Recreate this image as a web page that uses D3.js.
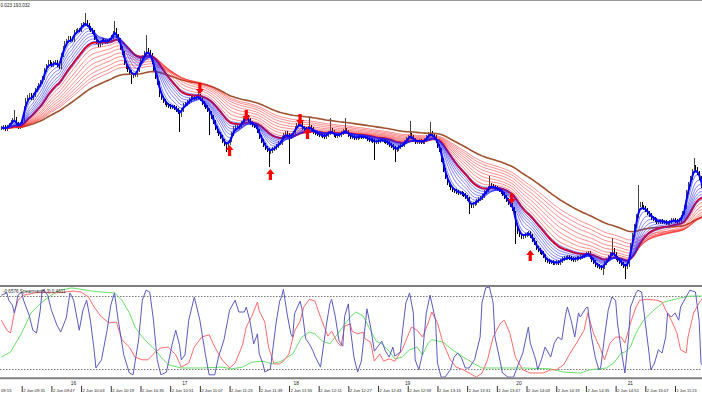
<!DOCTYPE html>
<html>
<head>
<meta charset="utf-8">
<script src="https://cdn.jsdelivr.net/npm/d3@7"></script>
<style>
  html, body { margin: 0; padding: 0; background: #fff; }
  svg { display: block; }
  text { font-family: "Liberation Sans", Arial, sans-serif; }
</style>
</head>
<body>
<svg id="chart" width="702" height="395"></svg>
<script>
// one bar per minute, first visible bar is 2 Jun 09:20
const closes = [
  193.098,193.099,193.097,193.099,193.101,193.104,193.106,193.107,193.102,193.099,
  193.102,193.106,193.118,193.126,193.129,193.131,193.128,193.131,193.136,193.138,
  193.141,193.144,193.148,193.156,193.160,193.164,193.162,193.161,193.163,193.164,
  193.161,193.159,193.171,193.178,193.183,193.185,193.188,193.186,193.186,193.194,
  193.195,193.196,193.196,193.201,193.202,193.204,193.201,193.198,193.196,193.194,
  193.188,193.184,193.181,193.183,193.186,193.185,193.184,193.185,193.186,193.189,
  193.193,193.196,193.190,193.186,193.178,193.173,193.163,193.159,193.156,193.154,
  193.150,193.151,193.151,193.156,193.161,193.166,193.169,193.173,193.176,193.174,
  193.171,193.164,193.156,193.149,193.143,193.131,193.128,193.125,193.123,193.121,
  193.120,193.119,193.119,193.118,193.116,193.114,193.111,193.116,193.121,193.122,
  193.124,193.126,193.128,193.129,193.128,193.129,193.130,193.127,193.123,193.121,
  193.119,193.116,193.113,193.109,193.104,193.098,193.095,193.092,193.089,193.085,
  193.082,193.080,193.083,193.086,193.092,193.098,193.099,193.099,193.100,193.103,
  193.106,193.108,193.109,193.106,193.103,193.101,193.100,193.099,193.095,193.089,
  193.085,193.081,193.078,193.076,193.074,193.075,193.077,193.078,193.080,193.083,
  193.083,193.088,193.091,193.093,193.091,193.089,193.091,193.093,193.098,193.101,
  193.102,193.103,193.098,193.097,193.096,193.098,193.099,193.097,193.094,193.093,
  193.092,193.091,193.091,193.090,193.089,193.091,193.093,193.096,193.094,193.091,
  193.090,193.091,193.091,193.093,193.095,193.096,193.094,193.091,193.089,193.089,
  193.088,193.088,193.089,193.090,193.089,193.089,193.089,193.087,193.086,193.086,
  193.085,193.084,193.084,193.085,193.086,193.086,193.085,193.084,193.083,193.081,
  193.080,193.078,193.076,193.077,193.079,193.081,193.081,193.084,193.087,193.089,
  193.091,193.089,193.086,193.084,193.084,193.085,193.084,193.084,193.086,193.089,
  193.092,193.093,193.091,193.089,193.085,193.080,193.076,193.066,193.056,193.049,
  193.043,193.041,193.038,193.036,193.035,193.034,193.033,193.033,193.032,193.031,
  193.029,193.027,193.021,193.020,193.022,193.023,193.025,193.027,193.028,193.030,
  193.034,193.036,193.038,193.041,193.040,193.039,193.038,193.037,193.036,193.034,
  193.032,193.029,193.026,193.023,193.021,193.017,193.013,192.999,192.994,192.991,
  192.989,192.990,192.991,192.992,192.993,192.990,192.986,192.983,192.978,192.976,
  192.974,192.973,192.970,192.966,192.965,192.964,192.964,192.963,192.963,192.964,
  192.963,192.965,192.967,192.968,192.968,192.969,192.968,192.967,192.966,192.967,
  192.968,192.968,192.969,192.970,192.971,192.972,192.973,192.969,192.966,192.964,
  192.961,192.960,192.959,192.958,192.959,192.963,192.966,192.969,192.972,192.976,
  192.972,192.968,192.966,192.964,192.962,192.960,192.959,192.961,192.968,192.981,
  192.991,193.000,193.010,193.021,193.022,193.019,193.018,193.016,193.013,193.011,
  193.008,193.007,193.006,193.004,193.004,193.005,193.004,193.004,193.003,193.003,
  193.004,193.006,193.006,193.005,193.004,193.006,193.009,193.013,193.019,193.034,
  193.042,193.048,193.055,193.059,193.057,193.053,193.048,193.040,193.030
];

// bars whose wick reaches past the open/close: [bar, price]
const spikes = [
  [7,193.114],[45,193.211],[61,193.203],[70,193.144],[78,193.189],[96,193.096],
  [106,193.134],[112,193.093],[121,193.076],[132,193.110],[144,193.061],[155,193.064],
  [166,193.106],[177,193.106],[185,193.106],[201,193.068],[212,193.066],[220,193.103],
  [231,193.102],[252,193.014],[263,193.048],[277,192.984],[324,192.953],[329,192.986],
  [336,192.949],[343,193.039],[373,193.066]
];

// signal arrows: [bar, price at the arrow tip]
const downArrows = [[107,193.132],[132,193.105],[161,193.101],[275,193.022]];
const upArrows = [[123,193.081],[145,193.057],[165,193.098],[285,192.976]];

// Spearman window: [bar, value]
const spearFast = [
  [0,0.82],[3,0.87],[4,0.71],[6,0.60],[7,0.43],[8,0.60],[9,0.82],[11,0.89],[12,0.71],[15,0.38],
  [17,0.05],[19,-0.01],[21,0.49],[22,0.93],[23,0.93],[25,0.82],[27,0.49],[30,0.16],[32,0.01],[35,0.32],
  [37,0.87],[39,0.71],[41,0.27],[42,0.05],[44,0.49],[46,0.71],[48,0.27],[50,-0.38],[51,-0.78],[54,-0.60],
  [57,0.05],[59,0.60],[61,0.87],[63,0.27],[66,-0.49],[69,-0.89],[71,-0.93],[74,-0.16],[76,0.71],[78,0.93],
  [80,0.89],[82,0.27],[84,-0.60],[86,-0.93],[89,-0.87],[92,-0.27],[94,0.05],[96,-0.27],[97,-0.60],[99,-0.49],
  [101,0.27],[104,0.78],[107,0.27],[110,-0.49],[112,-0.93],[115,-0.93],[117,-0.54],[120,-0.16],[123,0.49],[126,0.71],
  [128,0.45],[131,0.45],[132,0.56],[134,0.25],[136,-0.25],[138,-0.03],[139,-0.47],[141,-0.69],[142,-0.87],[145,-0.80],
  [148,0.19],[150,0.69],[151,0.78],[152,0.95],[154,0.41],[156,-0.03],[157,-0.10],[158,0.41],[161,0.69],[162,0.52],
  [164,-0.14],[166,-0.25],[168,-0.41],[169,-0.52],[172,-0.76],[175,0.12],[177,0.63],[178,0.73],[180,0.34],[182,-0.19],
  [184,-0.30],[185,0.36],[187,0.63],[188,0.12],[190,-0.54],[192,-0.87],[194,-0.63],[196,0.12],[197,0.52],[199,0.12],
  [201,-0.41],[204,-0.25],[205,-0.19],[207,-0.41],[209,-0.54],[211,-0.32],[212,-0.52],[215,-0.43],[216,-0.03],[218,0.65],
  [220,0.87],[222,0.43],[223,-0.60],[225,-0.82],[227,-0.45],[229,0.43],[231,0.82],[234,0.27],[235,-0.67],[237,-0.98],
  [239,-0.98],[242,-0.82],[244,-0.54],[246,-0.45],[248,-0.56],[250,-0.78],[252,-0.78],[255,-0.60],[258,-0.10],[259,0.65],
  [261,0.98],[263,1.00],[265,0.65],[266,-0.10],[269,-0.67],[270,-0.89],[273,-0.98],[276,-0.98],[278,-0.76],[281,-0.45],
  [284,0.12],[285,-0.23],[288,-0.60],[289,-0.82],[291,-0.60],[293,-0.32],[296,-0.54],[298,-0.23],[300,-0.10],[302,-0.16],
  [304,0.38],[305,0.56],[307,0.27],[309,-0.10],[311,0.43],[312,0.34],[315,0.54],[316,0.56],[318,-0.10],[320,-0.54],
  [322,-0.82],[323,-0.76],[325,-0.10],[327,0.49],[329,0.78],[331,0.71],[332,0.21],[334,-0.38],[336,-0.89],[338,-0.10],
  [339,0.56],[342,0.87],[343,0.93],[345,0.89],[347,0.21],[349,-0.45],[350,-0.82],[352,-0.67],[354,-0.38],[356,-0.45],
  [358,-0.10],[359,0.43],[361,0.34],[363,0.43],[365,0.27],[366,0.56],[369,0.78],[371,0.93],[374,0.89],[376,0.27],
  [377,-0.67],[379,-0.82]
];
const spearMid = [
  [0,0.27],[3,0.05],[5,-0.01],[7,0.43],[9,0.71],[12,0.82],[18,0.87],[23,0.89],[29,0.87],[34,0.89],
  [39,0.91],[43,0.89],[47,0.78],[50,0.56],[54,0.34],[58,0.21],[62,0.23],[65,-0.16],[69,-0.32],[72,-0.54],
  [76,-0.60],[79,-0.60],[83,-0.43],[86,-0.34],[90,-0.32],[94,-0.49],[97,-0.76],[101,-0.67],[104,-0.32],[108,-0.10],
  [112,-0.05],[115,-0.32],[119,-0.60],[123,-0.78],[126,-0.67],[130,-0.27],[132,0.12],[135,0.36],[138,0.67],[139,0.47],
  [142,0.23],[144,-0.32],[147,-0.69],[150,-0.69],[152,-0.63],[155,-0.47],[158,0.03],[161,0.25],[163,0.56],[166,0.73],
  [169,0.69],[171,0.45],[174,0.12],[176,-0.08],[178,0.03],[181,-0.21],[183,-0.30],[185,0.14],[188,0.19],[189,0.03],
  [192,-0.03],[195,0.01],[196,-0.14],[199,-0.21],[201,-0.63],[204,-0.47],[206,-0.63],[209,-0.58],[212,-0.63],[216,-0.38],
  [221,0.12],[224,0.05],[227,-0.10],[230,0.21],[232,0.45],[235,0.21],[238,-0.23],[242,-0.60],[245,-0.76],[249,-0.82],
  [252,-0.89],[256,-0.98],[259,-0.89],[262,-0.60],[265,-0.10],[269,0.21],[271,0.27],[274,-0.01],[277,-0.54],[281,-0.82],
  [285,-0.89],[288,-0.89],[292,-0.89],[296,-0.82],[299,-0.82],[303,-0.71],[306,-0.49],[310,-0.23],[314,0.05],[316,0.43],
  [319,-0.01],[323,-0.38],[325,-0.60],[328,-0.23],[331,-0.10],[334,-0.10],[336,-0.23],[339,0.21],[342,0.56],[344,0.71],
  [348,0.73],[353,0.71],[356,0.67],[358,0.49],[361,0.27],[364,-0.01],[366,-0.38],[369,-0.45],[370,-0.10],[373,0.43],
  [376,0.65],[378,0.76]
];
const spearSlow = [
  [0,-0.54],[5,-0.43],[11,-0.01],[16,0.43],[22,0.67],[27,0.82],[32,0.93],[38,0.98],[43,0.95],[49,0.91],
  [54,0.89],[61,0.87],[65,0.71],[69,0.43],[72,0.12],[76,-0.10],[79,-0.23],[83,-0.38],[86,-0.54],[90,-0.71],
  [97,-0.78],[108,-0.78],[119,-0.76],[124,-0.80],[130,-0.76],[135,-0.65],[141,-0.63],[146,-0.69],[151,-0.63],[157,-0.47],
  [162,-0.10],[166,0.01],[169,-0.03],[173,-0.19],[177,-0.25],[180,-0.10],[184,0.12],[188,0.34],[191,0.45],[195,0.36],
  [198,0.12],[202,-0.19],[205,-0.25],[209,-0.41],[212,-0.58],[216,-0.54],[220,-0.38],[224,-0.32],[227,-0.49],[230,-0.23],
  [232,-0.16],[238,-0.21],[243,-0.38],[249,-0.54],[254,-0.67],[259,-0.78],[266,-0.78],[281,-0.78],[296,-0.80],[303,-0.87],
  [312,-0.89],[317,-0.82],[326,-0.78],[330,-0.67],[334,-0.45],[336,-0.43],[339,-0.32],[342,-0.01],[346,0.27],[350,0.43],
  [353,0.54],[357,0.67],[361,0.71],[366,0.76],[371,0.80],[378,0.80]
];

const fastBluePeriod = 3;
const bluePeriods = [5, 8, 11, 14, 17, 20, 23, 26];
const fastRedPeriod = 24;
const redPeriods = [30, 36, 42, 49, 56, 64, 72, 80];
const trendPeriod = 100;

const dayLabels = ["16", "17", "18", "19", "20", "21"];
const dayBars = [40, 100, 160, 220, 280, 340];
const tickTimes = d3.range(1, 25).map(k => new Date(2023, 5, 2, 9, 15 + 16 * k));

const headerText = "0.023 193.032";
const oscText = "-0.6576  Spearman(8,3) 0.4611";
const firstTickText = "09:15";

const svg = d3.select("#chart");
const W = 702;
const barTime = (j) => new Date(2023, 5, 2, 9, 20 + j);

const xScale = d3.scaleTime()
  .domain([barTime(0), barTime(378)])
  .range([1.28, 1.28 + 1.856 * 378]);
const yScale = d3.scaleLinear().domain([192.941, 193.226]).range([285, 0]);
const oScale = d3.scaleLinear().domain([-1, 1]).range([378, 287]);

const defs = svg.append("defs");
defs.append("clipPath").attr("id", "clipMain")
  .append("rect").attr("x", 0).attr("y", 1).attr("width", W).attr("height", 284);
defs.append("clipPath").attr("id", "clipOsc")
  .append("rect").attr("x", 0).attr("y", 287).attr("width", W).attr("height", 90.5);

const main = svg.append("g").attr("clip-path", "url(#clipMain)");

// candles
const bars = closes.map((c, j) => {
  const o = j ? closes[j - 1] : c;
  return { j, o, c, hi: Math.max(o, c), lo: Math.min(o, c) };
});
spikes.forEach(([j, p]) => {
  const b = bars[j];
  if (p > b.hi) b.hi = p;
  if (p < b.lo) b.lo = p;
});

main.selectAll(".candle")
  .data(bars)
  .enter()
  .append("line")
  .attr("class", "candle")
  .attr("x1", (d) => Math.round(xScale(barTime(d.j))) + 0.5)
  .attr("x2", (d) => Math.round(xScale(barTime(d.j))) + 0.5)
  .attr("y1", (d) => yScale(d.hi) - 2)
  .attr("y2", (d) => yScale(d.lo) + 2)
  .attr("stroke", (d) => (d.c >= d.o ? "#444" : "#000"))
  .attr("stroke-width", 1);

// moving averages
const ema = (src, n) => {
  const a = 2 / (n + 1);
  let e = src[0];
  return src.map((v) => (e = e + a * (v - e)));
};
const maLine = d3.line()
  .x((d, j) => xScale(barTime(j)))
  .y((d) => yScale(d));

main.append("path")
  .attr("d", maLine(ema(closes, trendPeriod)))
  .attr("fill", "none")
  .attr("stroke", "#a0522d")
  .attr("stroke-width", 1.6);

redPeriods.forEach((n) => {
  main.append("path")
    .attr("d", maLine(ema(closes, n)))
    .attr("fill", "none")
    .attr("stroke", "#ff2020")
    .attr("stroke-opacity", 0.65)
    .attr("stroke-width", 0.8);
});
main.append("path")
  .attr("d", maLine(ema(closes, fastRedPeriod)))
  .attr("fill", "none")
  .attr("stroke", "#ff0000")
  .attr("stroke-width", 2);

bluePeriods.forEach((n) => {
  main.append("path")
    .attr("d", maLine(ema(closes, n)))
    .attr("fill", "none")
    .attr("stroke", "#2020ff")
    .attr("stroke-opacity", 0.7)
    .attr("stroke-width", 0.8);
});
main.append("path")
  .attr("d", maLine(ema(closes, fastBluePeriod)))
  .attr("fill", "none")
  .attr("stroke", "#0000ff")
  .attr("stroke-width", 2);

// arrows
const arrowPath = (x, ty, dir) => {
  // dir = 1 points down, -1 points up
  const s = dir;
  return `M${x},${ty} L${x - 4},${ty - 5 * s} L${x - 1.6},${ty - 5 * s} L${x - 1.6},${ty - 11 * s}` +
    ` L${x + 1.6},${ty - 11 * s} L${x + 1.6},${ty - 5 * s} L${x + 4},${ty - 5 * s} Z`;
};
main.selectAll(".dnArrow")
  .data(downArrows)
  .enter()
  .append("path")
  .attr("class", "dnArrow")
  .attr("d", (d) => arrowPath(xScale(barTime(d[0])), yScale(d[1]), 1))
  .attr("fill", "#ff0000");
main.selectAll(".upArrow")
  .data(upArrows)
  .enter()
  .append("path")
  .attr("class", "upArrow")
  .attr("d", (d) => arrowPath(xScale(barTime(d[0])), yScale(d[1]), -1))
  .attr("fill", "#ff0000");

// oscillator window
const osc = svg.append("g").attr("clip-path", "url(#clipOsc)");
[0.8, -0.8].forEach((v) => {
  osc.append("line")
    .attr("x1", 0).attr("x2", W)
    .attr("y1", Math.round(oScale(v)) + 0.5)
    .attr("y2", Math.round(oScale(v)) + 0.5)
    .attr("stroke", "#555")
    .attr("stroke-width", 0.8)
    .attr("stroke-dasharray", "1.5,1.5");
});
const oscLine = d3.line()
  .x((d) => xScale(barTime(d[0])))
  .y((d) => oScale(d[1]));
osc.append("path").attr("d", oscLine(spearSlow))
  .attr("fill", "none").attr("stroke", "#66e066").attr("stroke-width", 1);
osc.append("path").attr("d", oscLine(spearMid))
  .attr("fill", "none").attr("stroke", "#ff6a6a").attr("stroke-width", 1);
osc.append("path").attr("d", oscLine(spearFast))
  .attr("fill", "none").attr("stroke", "#5a5abf").attr("stroke-width", 1);

// frames
svg.append("line").attr("x1", 0).attr("x2", W).attr("y1", 0.5).attr("y2", 0.5)
  .attr("stroke", "#999").attr("stroke-width", 1);
[286, 378.3].forEach((y) => {
  svg.append("line").attr("x1", 0).attr("x2", W).attr("y1", y).attr("y2", y)
    .attr("stroke", "#808080").attr("stroke-width", 2);
});

// texts
svg.append("text").attr("x", 0.5).attr("y", 7)
  .attr("font-size", 4.6).attr("fill", "#222").text(headerText);
svg.append("text").attr("x", 3).attr("y", 292.5)
  .attr("font-size", 4.6).attr("fill", "#222").text(oscText);

svg.selectAll(".dayLabel")
  .data(dayLabels)
  .enter()
  .append("text")
  .attr("class", "dayLabel")
  .attr("x", (d, k) => xScale(barTime(dayBars[k])) - 2)
  .attr("y", 385)
  .attr("text-anchor", "middle")
  .attr("font-size", 4.8)
  .attr("fill", "#222")
  .text((d) => d);

const axis = d3.axisBottom(xScale)
  .tickValues(tickTimes)
  .tickFormat(d3.timeFormat("%-d %b %H:%M"))
  .tickSize(6);
const gx = svg.append("g").attr("transform", "translate(0,386)").call(axis);
gx.select(".domain").remove();
gx.selectAll(".tick line").attr("stroke", "#333");
gx.selectAll(".tick text")
  .attr("x", 1)
  .attr("y", 3)
  .attr("dy", "0.71em")
  .attr("text-anchor", "start")
  .attr("font-size", 4.2)
  .attr("font-family", "Liberation Sans, Arial, sans-serif")
  .attr("fill", "#222");
// shrink the last label so it stays clear of the right edge
gx.selectAll(".tick text").each(function (d) {
  const room = W - 6 - xScale(d) - 1;
  const w = this.getComputedTextLength();
  if (w > room) d3.select(this).attr("font-size", 4.2 * room / w);
});
// the first label of the row only shows its time part
svg.append("text").attr("x", 1).attr("y", 392.3)
  .attr("font-size", 4.2).attr("fill", "#222").text(firstTickText);
</script>
</body>
</html>
